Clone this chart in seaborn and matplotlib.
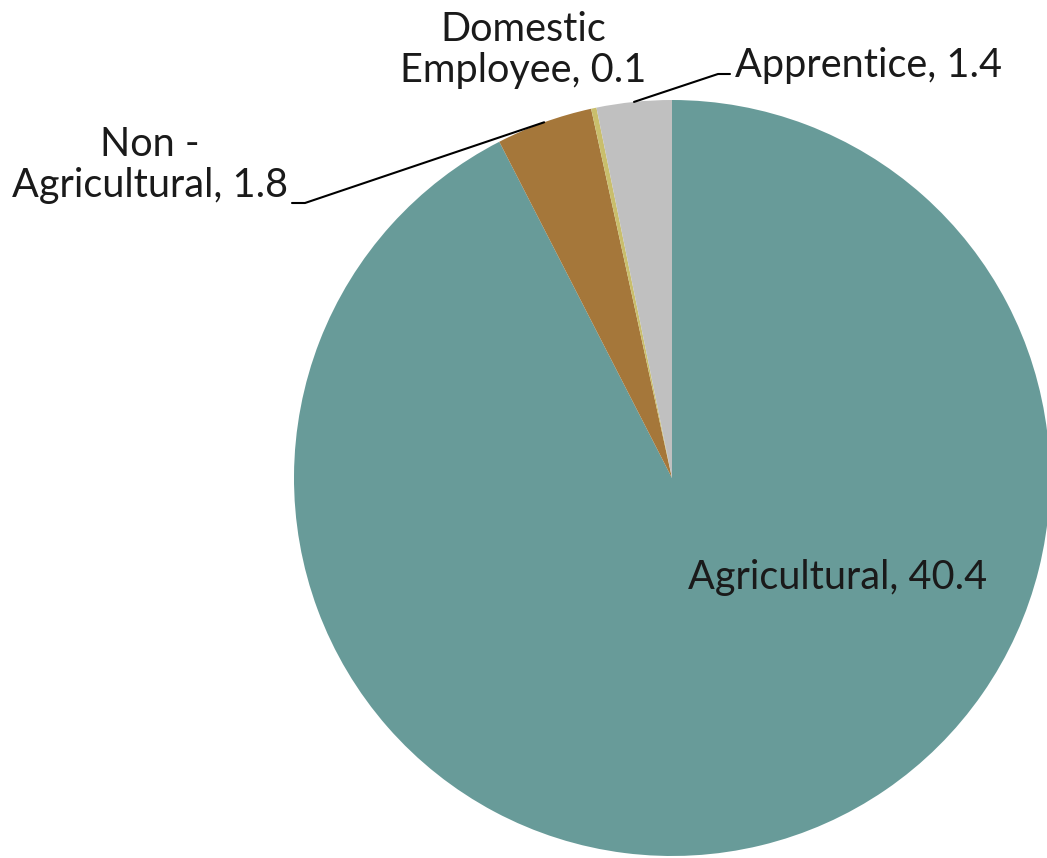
import numpy as np
import matplotlib
matplotlib.use("Agg")
import matplotlib.pyplot as plt
import seaborn as sns

sns.set_style("white")
plt.rcParams['font.family'] = ['Lato', 'DejaVu Sans']

# data
categories = ["Agricultural", "Non -\nAgricultural", "Domestic\nEmployee", "Apprentice"]
values = [40.4, 1.8, 0.1, 1.4]
colors = ["#689B99", "#A5773A", "#C9BE6C", "#C0C0C0"]

fig = plt.figure(figsize=(10.47, 8.58), dpi=100)
ax = fig.add_axes([0, 0, 1, 1])

# pixel -> data helpers (pie centre at 672,478 px, radius 378 px)
cx, cy, R = 672, 478, 378
def px(x, y):
    return (x - cx) / R, (cy - y) / R

wedges, _ = ax.pie(values, colors=colors, startangle=90, counterclock=False,
                   radius=1, center=(0, 0), frame=True,
                   wedgeprops=dict(linewidth=0))

ax.set_xlim(px(0, 0)[0], px(1047, 0)[0])
ax.set_ylim(px(0, 858)[1], px(0, 0)[1])
ax.set_aspect("auto")
ax.axis("off")

fs = 28.5
txt = "#1a1a1a"
labels = [f"{c}, {v}" for c, v in zip(categories, values)]

# Agricultural (inside)
ax.text(*px(688, 578), labels[0], ha="left", va="center", fontsize=fs, color=txt)
# Non - Agricultural
ax.text(*px(150, 165), labels[1], ha="center", va="center", fontsize=fs,
        multialignment="center", linespacing=1.15, color=txt)
# Domestic Employee
ax.text(*px(523, 50), labels[2], ha="center", va="center", fontsize=fs,
        multialignment="center", linespacing=1.15, color=txt)
# Apprentice
ax.text(*px(735, 65), labels[3], ha="left", va="center", fontsize=fs, color=txt)

def mid_edge(w):
    a = np.deg2rad((w.theta1 + w.theta2) / 2)
    return np.cos(a), np.sin(a)

# leader lines
ex, ey = mid_edge(wedges[1])
p1 = px(292, 203); p2 = px(305, 203)
ax.plot([p1[0], p2[0], ex], [p1[1], p2[1], ey], color="black", lw=1.5)

ex, ey = mid_edge(wedges[3])
p1 = px(730, 74); p2 = px(718, 74)
ax.plot([p1[0], p2[0], ex], [p1[1], p2[1], ey], color="black", lw=1.5)

fig.savefig("out.png", dpi=100)
